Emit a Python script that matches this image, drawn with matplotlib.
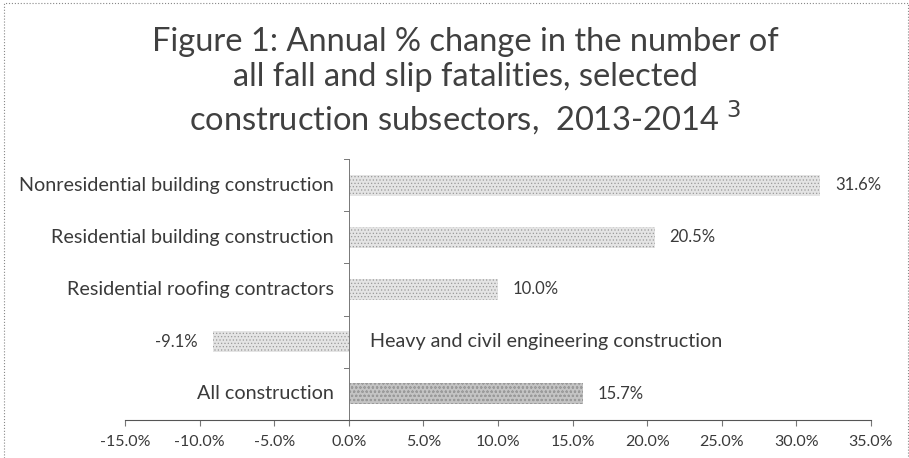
import matplotlib
matplotlib.use('Agg')
import matplotlib.pyplot as plt
import matplotlib.patches as mpatches
import numpy as np

# data, top to bottom as in the chart
categories = ['Nonresidential building construction',
              'Residential building construction',
              'Residential roofing contractors',
              'Heavy and civil engineering construction',
              'All construction']
values = [31.6, 20.5, 10.0, -9.1, 15.7]
xticks = [-15, -10, -5, 0, 5, 10, 15, 20, 25, 30, 35]
title = ('Figure 1: Annual % change in the number of\n'
         'all fall and slip fatalities, selected\n'
         'construction subsectors,  2013-2014$^{\\ 3}$')

plt.rcParams['font.family'] = ['Lato', 'DejaVu Sans']
txt = '#3a3a3a'

fig = plt.figure(figsize=(9.09, 4.58), dpi=100)
fig.patch.set_facecolor('white')
ax = fig.add_axes([125/909, 1-420/458, (871-125)/909, (420-159)/458])

y = np.arange(len(categories))
fills = ['#e4e4e4'] * 4 + ['#c4c4c4']
hatches = ['.....'] * 4 + ['oooo']
plt.rcParams['hatch.color'] = '#9a9a9a'
plt.rcParams['hatch.linewidth'] = 0.5
for yi, v, fc, h in zip(y, values, fills, hatches):
    ax.barh(yi, v, height=0.4, color=fc, hatch=h, linewidth=0)

ax.set_xlim(-15, 35)
ax.set_ylim(len(categories)-0.5, -0.5)
ax.set_xticks(xticks)
ax.set_xticklabels(['%.1f%%' % t for t in xticks], fontsize=11.5, color=txt)
ax.set_yticks([])
for s in ['top', 'right', 'left']:
    ax.spines[s].set_visible(False)
ax.spines['bottom'].set_color('#555555')
ax.spines['bottom'].set_linewidth(0.8)
ax.tick_params(axis='x', length=4, color='#777777', pad=7)

# vertical axis at zero with small category ticks
ax.axvline(0, color='#777777', linewidth=0.7)
for b in np.arange(-0.5, len(categories), 1.0):
    ax.plot([-0.35, 0], [b, b], color='#777777', linewidth=0.7, clip_on=False)

for yi, cat, v in zip(y, categories, values):
    if v >= 0:
        ax.text(-1.0, yi, cat, ha='right', va='center', fontsize=14.2, color=txt)
        ax.text(v + 1.0, yi, '%.1f%%' % v, ha='left', va='center', fontsize=12, color=txt)
    else:
        ax.text(1.4, yi, cat, ha='left', va='center', fontsize=14.2, color=txt)
        ax.text(v - 1.0, yi, '%.1f%%' % v, ha='right', va='center', fontsize=12, color=txt)

fig.text(0.512, 0.94, title, ha='center', va='top', fontsize=23.5, color='#404040',
         linespacing=1.2)

fig.patches.append(mpatches.Rectangle((0.004, -0.01), 0.995, 1.003, transform=fig.transFigure,
                                      fill=False, linestyle=':', linewidth=0.8,
                                      edgecolor='#888888'))

plt.savefig('out.png', dpi=100)
